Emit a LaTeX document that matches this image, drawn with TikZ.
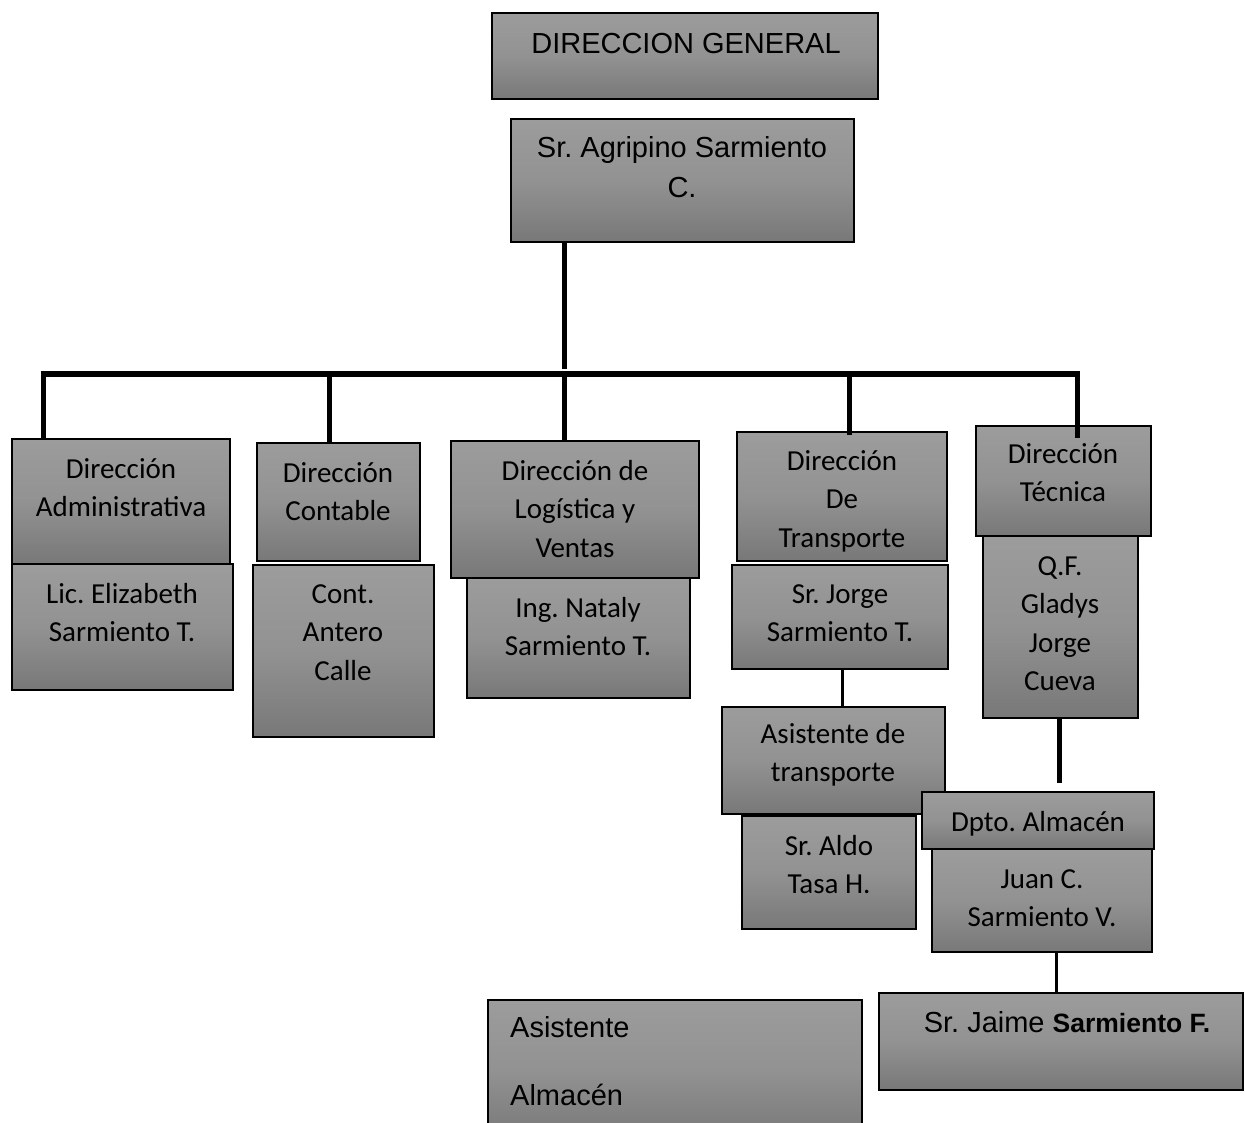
\documentclass[tikz,border=0pt]{standalone}
\usepackage{fontspec}
\setmainfont{Liberation Sans}
\newfontfamily\calfont{Carlito}
\definecolor{gtop}{HTML}{9C9C9C}
\definecolor{gmid}{HTML}{929292}
\definecolor{gbot}{HTML}{787878}
\newcommand\orgbox[5]{\node[obox, minimum width={#4-#2}, minimum height={#5-#3}] (#1) at (#2,#3) {};}
\frenchspacing
\begin{document}
\frenchspacing
\begin{tikzpicture}[x=1pt,y=-1pt,
  obox/.style={draw=black, line width=1.3pt, top color=gtop, bottom color=gbot, middle color=gmid,
               inner sep=0pt, outer sep=0pt, anchor=north west},
  cal/.style={font=\calfont\fontsize{29}{38.5}\selectfont, align=center, anchor=north,
              inner sep=0pt, yshift=26.95pt},
  ari/.style={font=\fontsize{29}{40}\selectfont, align=center, anchor=north,
              inner sep=0pt, yshift=28pt},
  arileft/.style={font=\fontsize{29}{68}\selectfont, align=left, anchor=north west,
              inner sep=0pt, yshift=47.6pt},
  heavy/.style={line width=5pt},
  light/.style={line width=3pt}]
\useasboundingbox (0,0) rectangle (1245,1122);
\clip (0,0) rectangle (1245,1122);

% top boxes
\orgbox{dg}{492}{13}{878}{99}
\orgbox{agr}{511}{119}{854}{242}

% person boxes (under the direction boxes)
\orgbox{admp}{12}{564}{233}{690}
\orgbox{conp}{253}{565}{434}{737}
\orgbox{logp}{467}{578}{690}{698}
\orgbox{trap}{732}{565}{948}{669}
\orgbox{tecp}{983}{536}{1138}{718}

% direction boxes
\orgbox{adm}{12}{439}{230}{564}
\orgbox{con}{257}{443}{420}{561}
\orgbox{log}{451}{441}{699}{578}
\orgbox{tra}{737}{432}{947}{561}
\orgbox{tec}{976}{426}{1151}{536}

% lower boxes
\orgbox{asis}{722}{707}{945}{814}
\orgbox{aldo}{742}{816}{916}{929}
\orgbox{juan}{932}{849}{1152}{952}
\orgbox{dpto}{922}{792}{1154}{849}
\orgbox{jaime}{879}{993}{1243}{1090}
\orgbox{asal}{488}{1000}{862}{1140}

% texts
\node[ari] (t-dg) at (686,53) {\strut DIRECCION GENERAL};
\node[ari] (t-agr) at (682,157) {\strut Sr. Agripino Sarmiento\\\strut C.};
\node[cal] (t-adm) at (121,478) {\strut Dirección\\\strut Administrativa};
\node[cal] (t-admp) at (122,603) {\strut Lic. Elizabeth\\\strut Sarmiento T.};
\node[cal] (t-con) at (338,482) {\strut Dirección\\\strut Contable};
\node[cal] (t-conp) at (343,603) {\strut Cont.\\\strut Antero\\\strut Calle};
\node[cal] (t-log) at (575,480) {\strut Dirección de\\\strut Logística y\\\strut Ventas};
\node[cal] (t-logp) at (578,617) {\strut Ing. Nataly\\\strut Sarmiento T.};
\node[cal] (t-tra) at (842,470) {\strut Dirección\\\strut De\\\strut Transporte};
\node[cal] (t-trap) at (840,603) {\strut Sr. Jorge\\\strut Sarmiento T.};
\node[cal] (t-tec) at (1063,463) {\strut Dirección\\\strut Técnica};
\node[cal] (t-tecp) at (1060,575) {\strut Q.F.\\\strut Gladys\\\strut Jorge\\\strut Cueva};
\node[cal] (t-asis) at (833,743) {\strut Asistente de\\\strut transporte};
\node[cal] (t-aldo) at (829,855) {\strut Sr. Aldo\\\strut Tasa H.};
\node[cal] (t-dpto) at (1038,831) {\strut Dpto. Almacén};
\node[cal] (t-juan) at (1042,888) {\strut Juan C.\\\strut Sarmiento V.};
\node[ari] (t-jaime) at (1067,1032) {\strut Sr. Jaime {\bfseries\fontsize{26.5}{40}\selectfont Sarmiento F.}};
\node[arileft] (t-asal) at (510,1037) {\strut Asistente\\\strut Almacén};

% connectors
\coordinate (bl) at (40.5,374);
\coordinate (br) at (1080,374);
\coordinate (j1) at (43,374);
\coordinate (j2) at (329,374);
\coordinate (j3) at (564,374);
\coordinate (j4) at (849,374);
\coordinate (j5) at (1077,374);
\draw[heavy] (agr.south -| j3) -- ([yshift=5pt]j3);
\draw[line width=6pt] (bl) -- (br);
\draw[heavy] (j1) -- ([yshift=-1pt]j1 |- adm.north);
\draw[heavy] (j2) -- (j2 |- con.north);
\draw[heavy] (j3) -- (j3 |- log.north);
\draw[heavy] (j4) -- ([yshift=-3pt]j4 |- tra.north);
\draw[heavy] (j5) -- ([yshift=-12pt]j5 |- tec.north);
\draw[light] ([xshift=2pt]trap.south) -- ([xshift=2pt]trap.south |- asis.north);
\draw[heavy] ([xshift=-1.5pt]tecp.south) -- ([xshift=-1.5pt,yshift=9pt]tecp.south |- dpto.north);
\draw[light] ([xshift=14pt]juan.south) -- ([xshift=14pt]juan.south |- jaime.north);
\end{tikzpicture}
\end{document}
